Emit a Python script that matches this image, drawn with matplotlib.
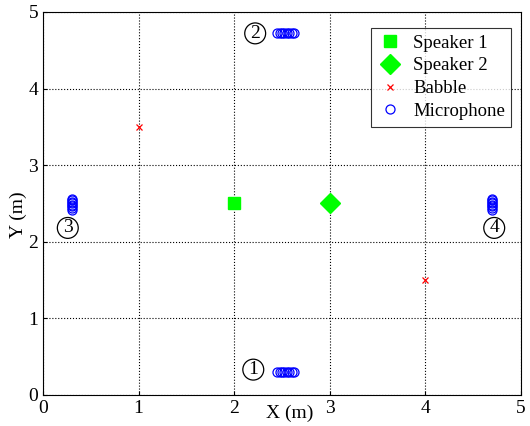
import matplotlib
matplotlib.use("Agg")
import matplotlib.pyplot as plt
from matplotlib.transforms import blended_transform_factory

plt.rcParams["font.family"] = ["Liberation Serif", "DejaVu Serif"]

# sources
spk1 = (2.0, 2.5)
spk2 = (3.0, 2.5)
babble_x = [1.0, 4.0]
babble_y = [3.5, 1.5]

# microphone arrays (8 mics each)
mic_h = [2.45, 2.475, 2.5, 2.525, 2.55, 2.575, 2.6, 2.625]
mic_v = [2.42, 2.44, 2.46, 2.48, 2.5, 2.52, 2.54, 2.56]
arr1_y = 0.3
arr2_y = 4.72
arr3_x = 0.3
arr4_x = 4.7

labels = ["1", "2", "3", "4"]
label_xy = [(2.2, 0.33), (2.22, 4.72), (0.26, 2.18), (4.72, 2.18)]

fig = plt.figure(figsize=(5.3, 4.26), dpi=100)
ax = fig.add_axes([0.081, 0.073, 0.902, 0.899])

ax.plot(*spk1, "s", color="#00ff00", ms=8.5, label="Speaker 1", ls="none")
ax.plot(*spk2, "D", color="#00ff00", ms=10, label="Speaker 2", ls="none")
ax.plot(babble_x, babble_y, "x", color="red", ms=5, mew=0.9,
        label="Babble", ls="none")

mic_kw = dict(marker="o", mfc="none", mec="blue", ms=6.5, mew=0.9, ls="none")
ax.plot(mic_h, [arr1_y] * len(mic_h), label="Microphone", **mic_kw)
ax.plot(mic_h, [arr2_y] * len(mic_h), **mic_kw)
ax.plot([arr3_x] * len(mic_v), mic_v, **mic_kw)
ax.plot([arr4_x] * len(mic_v), mic_v, **mic_kw)

for lab, (x, y) in zip(labels, label_xy):
    ax.text(x, y, lab, fontsize=14, ha="center", va="center",
            bbox=dict(boxstyle="circle,pad=0.1", fc="none", ec="black", lw=0.9))

ax.set_xlim(0, 5)
ax.set_ylim(0, 5)
ax.set_xticks(range(6))
ax.set_yticks(range(6))
ax.tick_params(direction="in", labelsize=14, length=3)
ax.grid(True, color="black", ls=":", lw=0.8)
for sp in ax.spines.values():
    sp.set_linewidth(0.8)

trans = blended_transform_factory(ax.transData, ax.transAxes)
ax.text(2.58, -0.048, "X (m)", transform=trans, fontsize=14,
        ha="center", va="center")
ax.set_ylabel("Y (m)", fontsize=14)
ax.yaxis.set_label_coords(-0.033, 0.47)

leg = ax.legend(loc="upper right", fontsize=13.5, frameon=True, fancybox=False,
                edgecolor="black", handletextpad=0.5, borderpad=0.35,
                labelspacing=0.3, handlelength=1.4, borderaxespad=0,
                bbox_to_anchor=(0.98, 0.958))
leg.get_frame().set_linewidth(0.8)

fig.savefig("out.png", dpi=100)
